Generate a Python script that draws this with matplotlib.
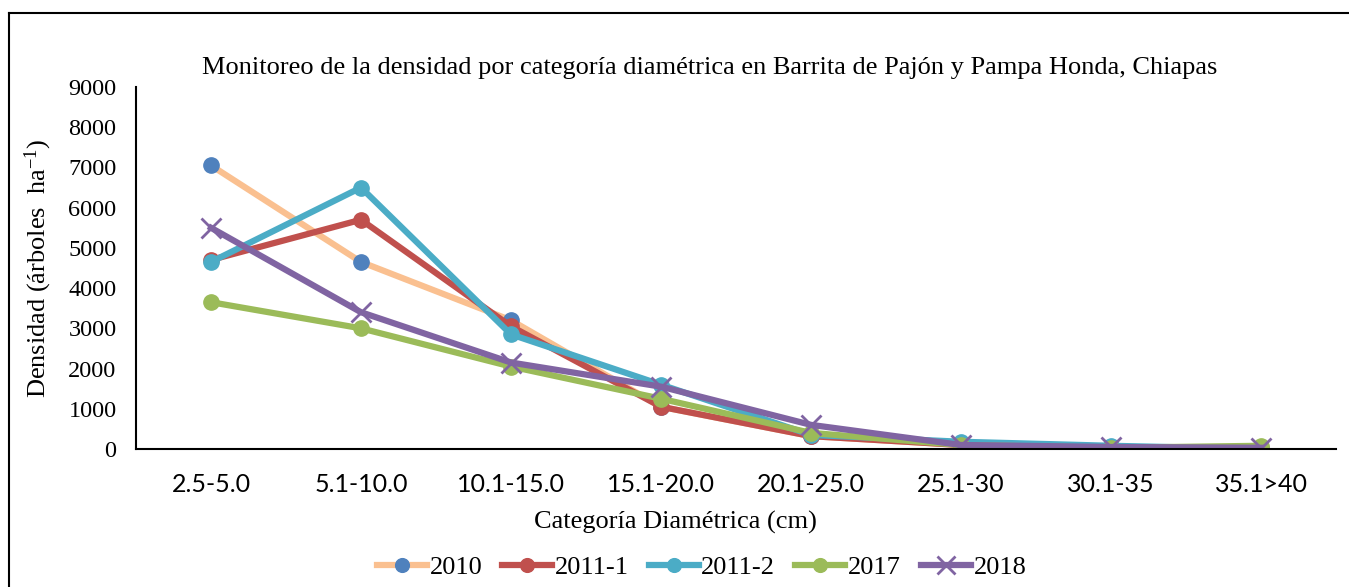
import matplotlib.pyplot as plt
from matplotlib.lines import Line2D

categories = ['2.5-5.0', '5.1-10.0', '10.1-15.0', '15.1-20.0',
              '20.1-25.0', '25.1-30', '30.1-35', '35.1>40']

d2010 = [7050, 4650, 3200, 1050, 320, 100, 30, 20]
d2011_1 = [4700, 5700, 3050, 1050, 320, 100, 0, 20]
d2011_2 = [4650, 6500, 2850, 1600, 350, 180, 80, 0]
d2017 = [3650, 3000, 2050, 1250, 400, 100, 30, 80]
d2018 = [5500, 3400, 2150, 1550, 600, 100, 50, 30]

series = [
    ('2010', d2010, '#FAC090', '#4F81BD', 'o'),
    ('2011-1', d2011_1, '#C0504D', '#C0504D', 'o'),
    ('2011-2', d2011_2, '#4BACC6', '#4BACC6', 'o'),
    ('2017', d2017, '#9BBB59', '#9BBB59', 'o'),
    ('2018', d2018, '#8064A2', '#8064A2', 'x'),
]

serif = ['Liberation Serif', 'DejaVu Serif']
sans = ['Lato', 'DejaVu Sans']

fig = plt.figure(figsize=(13.49, 5.87), dpi=100)
ax = fig.add_axes([136 / 1349, 1 - 449 / 587, 1200 / 1349, 362 / 587])

x = range(len(categories))
for name, vals, lc, mc, mk in series:
    if mk == 'x':
        ax.plot(x, vals, color=lc, lw=4.5, marker='x', ms=14, mew=2,
                mec=mc, label=name)
    else:
        ax.plot(x, vals, color=lc, lw=4.5, marker='o', ms=11,
                mfc=mc, mec=mc, label=name)

ax.set_xlim(-0.5, len(categories) - 0.5)
ax.set_ylim(0, 9000)
ax.set_yticks(range(0, 9001, 1000))
ax.set_xticks(list(x))
ax.set_xticklabels(categories, family=sans, fontsize=18)
for t in ax.get_yticklabels():
    t.set_family(serif)
    t.set_fontsize(17.5)
ax.tick_params(axis='both', length=0)
ax.tick_params(axis='x', pad=17)
ax.tick_params(axis='y', pad=14)

for s in ['top', 'right']:
    ax.spines[s].set_visible(False)
ax.spines['left'].set_linewidth(1.5)
ax.spines['bottom'].set_linewidth(1.5)

ax.set_xlabel('Categoría Diamétrica (cm)', family=serif, fontsize=19)
ax.xaxis.set_label_coords((675 - 136) / 1200, -(522 - 449) / 362, transform=ax.transAxes)
ax.xaxis.label.set_va('center')
ax.set_ylabel('Densidad (árboles  ha$\\mathregular{^{-1}}$)', family=serif, fontsize=19, labelpad=10)
fig.text(0.526, 1 - 68 / 587, 'Monitoreo de la densidad por categoría diamétrica en Barrita de Pajón y Pampa Honda, Chiapas',
         family=serif, fontsize=19, ha='center', va='center')

leg = fig.legend(loc='center', bbox_to_anchor=(0.52, 1 - 567 / 587), ncol=5,
                 frameon=False, prop={'family': serif, 'size': 19},
                 handlelength=1.9, columnspacing=0.75, handletextpad=0.1,
                 markerscale=0.9)

# outer chart frame (left and top edges)
fig.add_artist(Line2D([9 / 1349, 9 / 1349], [0, 1 - 13 / 587], color='black', lw=1.5))
fig.add_artist(Line2D([9 / 1349, 1], [1 - 13 / 587, 1 - 13 / 587], color='black', lw=1.5))

fig.savefig('out.png', dpi=100)
